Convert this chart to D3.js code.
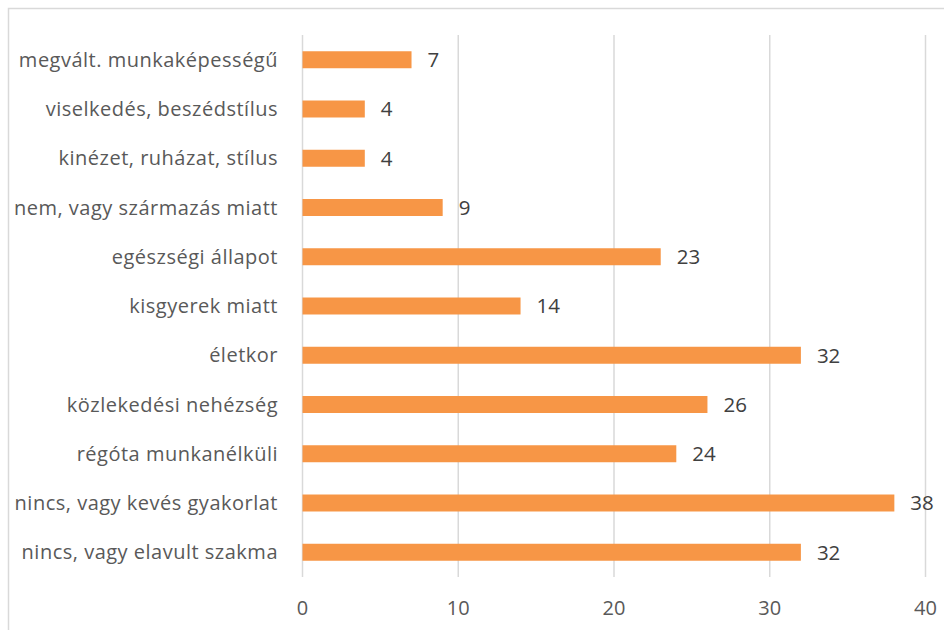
<!DOCTYPE html>
<meta charset="utf-8">
<style>
body { margin: 0; background: #fff; }
svg { display: block; font-family: "Open Sans", Lato, sans-serif; }
.cat text { fill: #595959; font-size: 20px; letter-spacing: 0.5px; }
.tick-lbl { fill: #595959; font-size: 20px; }
.val { fill: #404040; font-size: 20.5px; }
</style>
<body>
<div id="chart"></div>
<script src="https://d3js.org/d3.v7.min.js"></script>
<script>
// categories top to bottom
var categories = [
  "megvált. munkaképességű",
  "viselkedés, beszédstílus",
  "kinézet, ruházat, stílus",
  "nem, vagy származás miatt",
  "egészségi állapot",
  "kisgyerek miatt",
  "életkor",
  "közlekedési nehézség",
  "régóta munkanélküli",
  "nincs, vagy kevés gyakorlat",
  "nincs, vagy elavult szakma"
];
var values = [7, 4, 4, 9, 23, 14, 32, 26, 24, 38, 32];
var ticks = [0, 10, 20, 30, 40];

var W = 944, H = 630;
var plot = {left: 302.5, right: 925.5, top: 35, bottom: 577};

var svg = d3.select("#chart").append("svg")
    .attr("width", W)
    .attr("height", H);

// outer frame
svg.append("rect")
    .attr("x", 8.5).attr("y", 8.5)
    .attr("width", W + 10).attr("height", H + 10)
    .attr("fill", "none")
    .attr("stroke", "#d9d9d9")
    .attr("stroke-width", 1.5);

var x = d3.scaleLinear().domain([0, 40]).range([plot.left, plot.right]);
var y = d3.scaleBand().domain(categories).range([plot.top, plot.bottom]).paddingInner(0.655).paddingOuter(0.33);

// gridlines
svg.append("g").selectAll("line")
    .data(ticks)
  .enter().append("line")
    .attr("x1", function(d) { return x(d); })
    .attr("x2", function(d) { return x(d); })
    .attr("y1", plot.top)
    .attr("y2", plot.bottom)
    .attr("stroke", "#d9d9d9")
    .attr("stroke-width", 1.5);

// tick labels
svg.append("g").selectAll("text")
    .data(ticks)
  .enter().append("text")
    .attr("class", "tick-lbl")
    .attr("x", function(d) { return x(d); })
    .attr("y", 608)
    .attr("dy", "0.35em")
    .attr("text-anchor", "middle")
    .text(function(d) { return d; });

// bars
svg.append("g").selectAll("rect")
    .data(values)
  .enter().append("rect")
    .attr("x", x(0))
    .attr("y", function(d, i) { return y(categories[i]); })
    .attr("width", function(d) { return x(d) - x(0); })
    .attr("height", y.bandwidth())
    .attr("fill", "#f79646");

// value labels
svg.append("g").selectAll("text")
    .data(values)
  .enter().append("text")
    .attr("class", "val")
    .attr("x", function(d) { return x(d) + 16; })
    .attr("y", function(d, i) { return y(categories[i]) + y.bandwidth() / 2; })
    .attr("dy", "0.36em")
    .text(function(d) { return d; });

// category axis labels
svg.append("g")
    .attr("class", "cat")
    .selectAll("text")
    .data(categories)
  .enter().append("text")
    .attr("x", 278)
    .attr("y", function(d) { return y(d) + y.bandwidth() / 2; })
    .attr("dy", "0.36em")
    .attr("text-anchor", "end")
    .text(function(d) { return d; });
</script>
</body>
